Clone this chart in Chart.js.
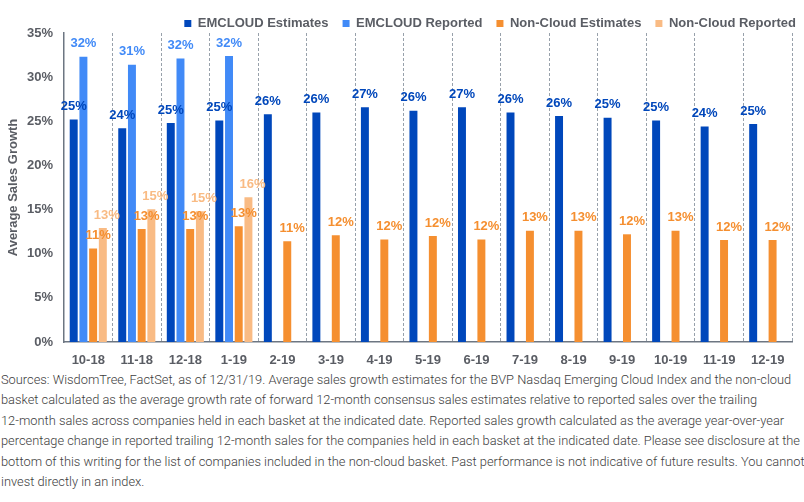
<!DOCTYPE html>
<html>
<head>
<meta charset="utf-8">
<script src="https://cdn.jsdelivr.net/npm/chart.js@4.4.1/dist/chart.umd.min.js"></script>
<style>
    html, body { margin: 0; padding: 0; background: #fff; }
    body { width: 804px; height: 502px; position: relative; overflow: hidden; }
    #wrap { position: absolute; left: 0; top: 0; width: 804px; height: 368px; }
    #notes {
        position: absolute; left: 1px; top: 370px;
        font-family: Roboto, "Liberation Sans", sans-serif;
        font-weight: 300; font-size: 13px; line-height: 20.4px;
        color: #3d3d3d; white-space: nowrap; transform-origin: 0 0;
    }
    #notes div { display: block; }
</style>
</head>
<body>
<div id="wrap"><canvas id="salesChart"></canvas></div>
<div id="notes">
    <div>Sources: WisdomTree, FactSet, as of 12/31/19. Average sales growth estimates for the BVP Nasdaq Emerging Cloud Index and the non-cloud</div>
    <div>basket calculated as the average growth rate of forward 12-month consensus sales estimates relative to reported sales over the trailing</div>
    <div>12-month sales across companies held in each basket at the indicated date. Reported sales growth calculated as the average year-over-year</div>
    <div id="longLine">percentage change in reported trailing 12-month sales for the companies held in each basket at the indicated date. Please see disclosure at the</div>
    <div>bottom of this writing for the list of companies included in the non-cloud basket. Past performance is not indicative of future results. You cannot</div>
    <div>invest directly in an index.</div>
</div>
<script>
// months on the x axis
const months = ["10-18", "11-18", "12-18", "1-19", "2-19", "3-19", "4-19", "5-19",
    "6-19", "7-19", "8-19", "9-19", "10-19", "11-19", "12-19"];

// average sales growth, %
const emcloudEstimates = [25.2, 24.2, 24.8, 25.1, 25.8, 26.0, 26.6, 26.2, 26.6, 26.0, 25.6, 25.4, 25.1, 24.4, 24.7];
const emcloudReported = [32.3, 31.4, 32.1, 32.4, null, null, null, null, null, null, null, null, null, null, null];
const nonCloudEstimates = [10.6, 12.8, 12.8, 13.1, 11.4, 12.1, 11.6, 12.0, 11.6, 12.6, 12.6, 12.2, 12.6, 11.55, 11.55];
const nonCloudReported = [12.9, 15.05, 14.8, 16.4, null, null, null, null, null, null, null, null, null, null, null];

const yTicks = [0, 5, 10, 15, 20, 25, 30, 35];

const colors = {
    darkBlue: "#0047bb",
    lightBlue: "#418af7",
    orange: "#f58f30",
    lightOrange: "#f9bb84",
    text: "#5a5d64",
    axis: "#6d7682",
    grid: "#98a1ab",
};

const font = "'Liberation Sans', Arial, sans-serif";

// nudges the legend box a bit lower and to the right like the original
const legendTweak = {
    id: "legendTweak",
    beforeInit(chart) {
        const fit = chart.legend.fit;
        chart.legend.fit = function () {
            fit.call(this);
            this.height -= 7;
        };
    },
    afterLayout(chart) {
        chart.legend.left += 18;
        chart.legend.right += 18;
    },
};

// value labels above each bar
const barLabels = {
    id: "barLabels",
    afterDatasetsDraw(chart) {
        const ctx = chart.ctx;
        const shift = [0, 0, 5, 4];
        ctx.save();
        ctx.font = "bold 13px " + font;
        ctx.textAlign = "center";
        ctx.textBaseline = "middle";
        chart.data.datasets.forEach((ds, i) => {
            const meta = chart.getDatasetMeta(i);
            ctx.fillStyle = ds.backgroundColor;
            meta.data.forEach((bar, j) => {
                const v = ds.data[j];
                if (v === null || v === undefined) return;
                ctx.fillText(Math.round(v) + "%", bar.x + shift[i], bar.y - 13);
            });
        });
        ctx.restore();
    },
};

new Chart(document.getElementById("salesChart").getContext("2d"), {
    type: "bar",
    data: {
        labels: months,
        datasets: [
            { label: "EMCLOUD Estimates", data: emcloudEstimates, backgroundColor: colors.darkBlue },
            { label: "EMCLOUD Reported", data: emcloudReported, backgroundColor: colors.lightBlue },
            { label: "Non-Cloud Estimates", data: nonCloudEstimates, backgroundColor: colors.orange },
            { label: "Non-Cloud Reported", data: nonCloudReported, backgroundColor: colors.lightOrange },
        ],
    },
    options: {
        responsive: true,
        maintainAspectRatio: false,
        animation: false,
        categoryPercentage: 0.8,
        barPercentage: 0.82,
        layout: { padding: { top: 3, right: 12, left: 0, bottom: 0 } },
        plugins: {
            legend: {
                position: "top",
                align: "end",
                labels: {
                    boxWidth: 7,
                    boxHeight: 7,
                    padding: 14,
                    color: colors.text,
                    font: { family: font, size: 13, weight: "bold" },
                },
            },
            tooltip: { enabled: false },
        },
        scales: {
            x: {
                afterFit(scale) {
                    scale.height = 26;
                },
                grid: { display: true, drawTicks: false, color: colors.grid, lineWidth: 1 },
                border: { display: true, color: colors.axis, width: 1.5, dash: [3, 2] },
                ticks: {
                    padding: 11,
                    color: colors.text,
                    font: { family: font, size: 13, weight: "bold" },
                    maxRotation: 0,
                    autoSkip: false,
                },
            },
            y: {
                min: 0,
                max: 35,
                afterBuildTicks(scale) {
                    scale.ticks = yTicks.map((v) => ({ value: v }));
                },
                afterFit(scale) {
                    scale.width = 64;
                },
                grid: { display: false, drawTicks: false },
                border: { display: true, color: colors.axis, width: 1.5 },
                ticks: {
                    padding: 11,
                    color: colors.text,
                    font: { family: font, size: 13, weight: "bold" },
                    callback: (v) => v + "%",
                },
                title: {
                    display: true,
                    text: "Average Sales Growth",
                    color: colors.text,
                    padding: { top: 6, bottom: 0 },
                    font: { family: font, size: 13, weight: "bold" },
                },
            },
        },
    },
    plugins: [legendTweak, barLabels],
});

// squeeze the note so its longest line spans the page like the original
const longLine = document.getElementById("longLine");
const range = document.createRange();
range.selectNodeContents(longLine);
const textW = range.getBoundingClientRect().width;
document.getElementById("notes").style.transform = "scaleX(" + (799 / textW) + ")";
</script>
</body>
</html>
